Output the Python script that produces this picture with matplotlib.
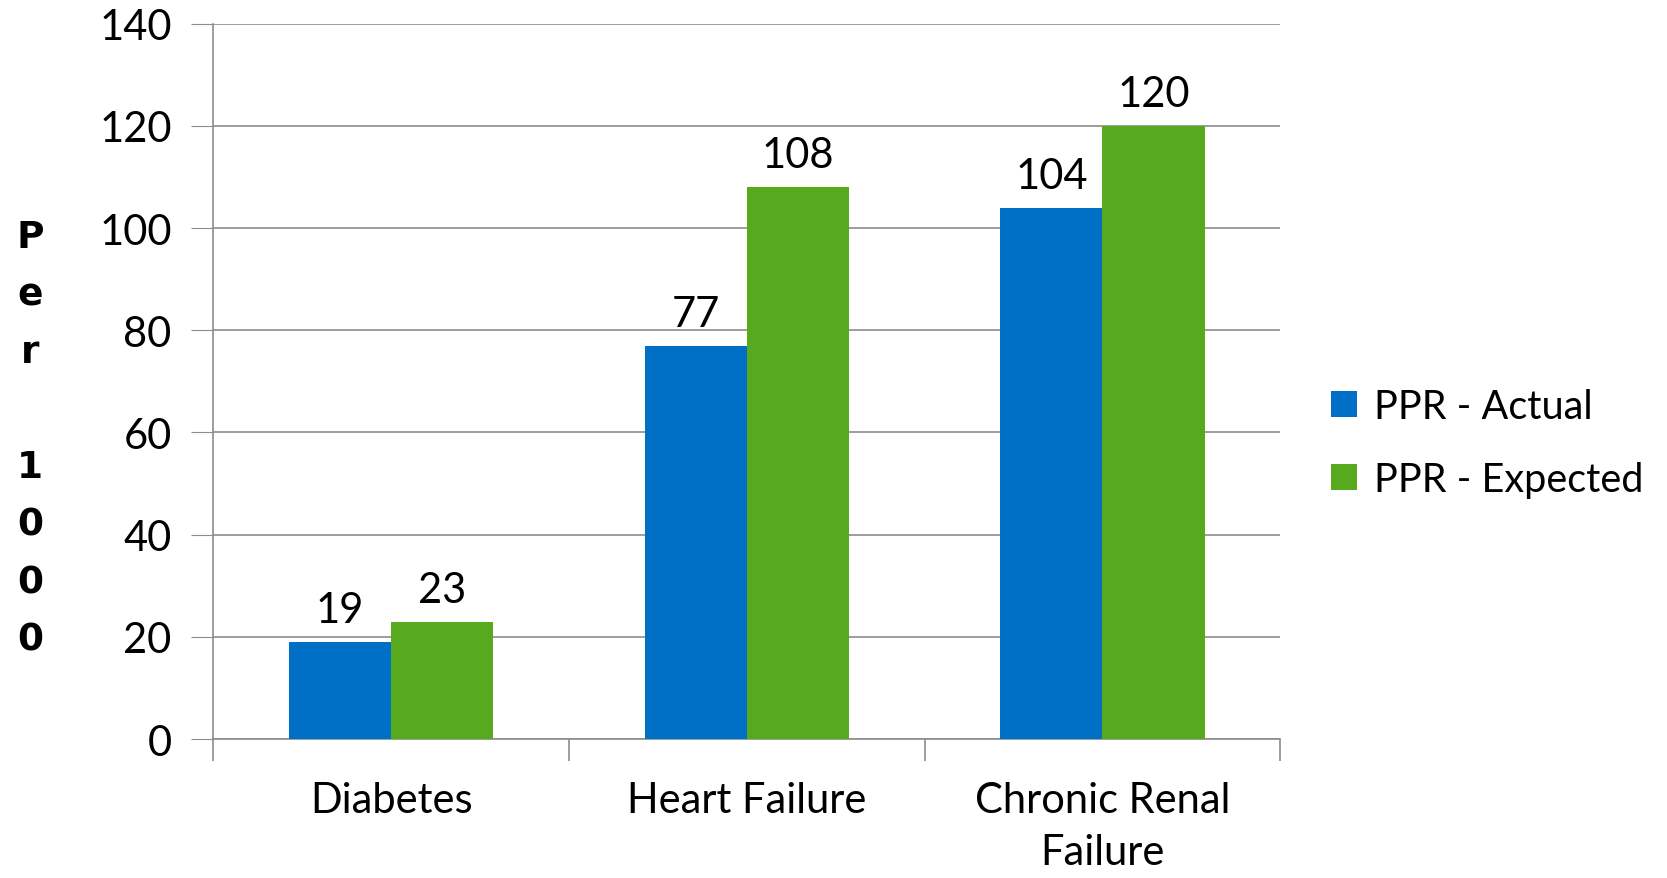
import matplotlib.pyplot as plt
import numpy as np

categories = ['Diabetes', 'Heart Failure', 'Chronic Renal\nFailure']
actual = [19, 77, 104]
expected = [23, 108, 120]
series_names = ['PPR - Actual', 'PPR - Expected']
y_ticks = [0, 20, 40, 60, 80, 100, 120, 140]

blue = '#0070C6'
green = '#57A91E'
grey = '#8c8c8c'

plt.rcParams['font.family'] = ['Lato', 'DejaVu Sans']

fig = plt.figure(figsize=(16.67, 8.79), dpi=100)
ax = fig.add_axes([0.128, 0.158, 0.640, 0.814])

x = np.arange(len(categories))
w = 0.287
b1 = ax.bar(x - w / 2, actual, w, color=blue, label=series_names[0], zorder=3)
b2 = ax.bar(x + w / 2, expected, w, color=green, label=series_names[1], zorder=3)

for bars, vals in ((b1, actual), (b2, expected)):
    for r, v in zip(bars, vals):
        ax.text(r.get_x() + r.get_width() / 2, v + 2.5, str(v),
                ha='center', va='bottom', fontsize=30, color='black')

ax.set_xlim(-0.5, 2.5)
ax.set_ylim(0, 140)
ax.set_yticks(y_ticks)
ax.tick_params(axis='y', labelsize=30, length=16, color=grey, pad=14)
ax.yaxis.grid(True, color=grey, linewidth=1.2, zorder=0)

ax.set_xticks(x)
ax.set_xticklabels(categories, fontsize=30, linespacing=1.45)
ax.tick_params(axis='x', length=0, pad=30)
ax.set_xticks([-0.5, 0.5, 1.5, 2.5], minor=True)
ax.tick_params(axis='x', which='minor', length=16, color=grey, width=1.2)

for s in ['top', 'right']:
    ax.spines[s].set_visible(False)
for s in ['left', 'bottom']:
    ax.spines[s].set_color(grey)
    ax.spines[s].set_linewidth(1.2)

fig.text(0.018, 0.50, 'P\ne\nr\n\n1\n0\n0\n0', family='DejaVu Sans',
         fontweight='bold', fontsize=27, ha='center', va='center', linespacing=1.77)

ax.legend(loc='center left', bbox_to_anchor=(1.014, 0.414), frameon=False,
          fontsize=28.5, handlelength=0.65, handleheight=0.65, handletextpad=0.45,
          labelspacing=0.9)

fig.savefig('out.png', dpi=100)
